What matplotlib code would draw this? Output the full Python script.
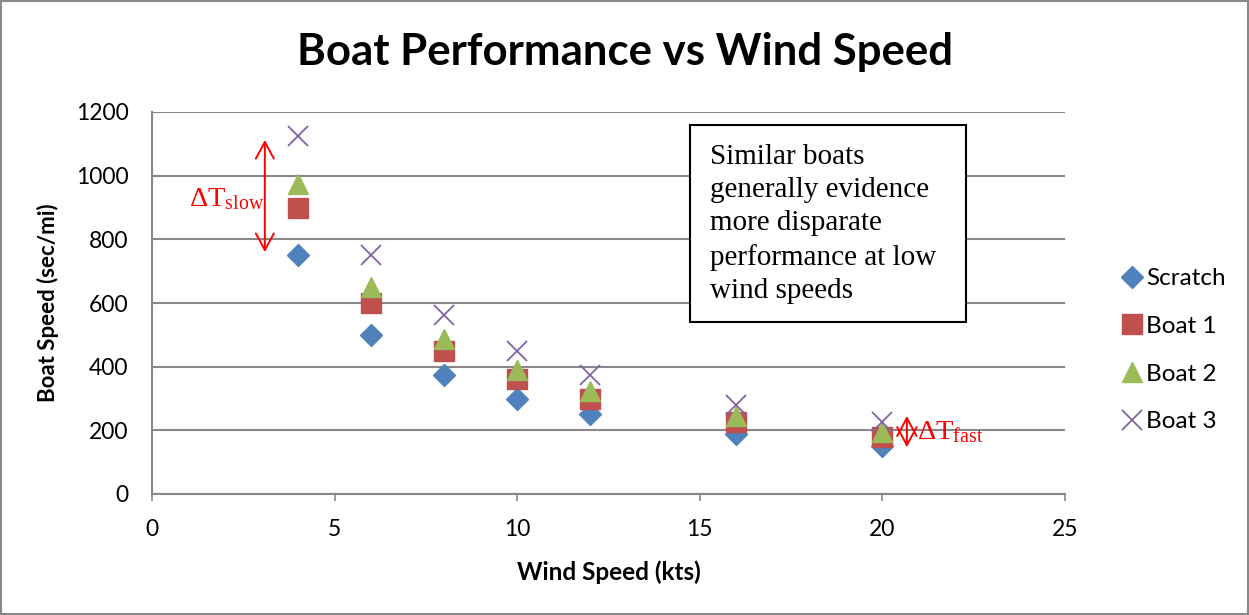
import matplotlib
matplotlib.use("Agg")
import matplotlib.pyplot as plt
from matplotlib.patches import Rectangle

wind = [4, 6, 8, 10, 12, 16, 20]
scratch = [750, 500, 375, 300, 250, 188, 150]
boat1 = [900, 600, 450, 360, 300, 225, 180]
boat2 = [975, 650, 488, 390, 325, 244, 195]
boat3 = [1125, 750, 563, 450, 375, 281, 225]
series_names = ["Scratch", "Boat 1", "Boat 2", "Boat 3"]
xticks = [0, 5, 10, 15, 20, 25]
yticks = [0, 200, 400, 600, 800, 1000, 1200]

plt.rcParams['font.family'] = ['Lato', 'DejaVu Sans']

fig = plt.figure(figsize=(12.49, 6.15), dpi=100)
ax = fig.add_axes([152/1249, 1-494/615, (1065-152)/1249, (494-112)/615])

ax.plot(wind, scratch, linestyle='none', marker='D', markersize=11, color='#4F81BD', label=series_names[0])
ax.plot(wind, boat1, linestyle='none', marker='s', markersize=14, color='#C0504D', label=series_names[1])
ax.plot(wind, boat2, linestyle='none', marker='^', markersize=15, color='#9BBB59', label=series_names[2])
ax.plot(wind, boat3, linestyle='none', marker='x', markersize=14, markeredgewidth=1.3, color='#8064A2', label=series_names[3])

ax.set_xlim(0, 25)
ax.set_ylim(0, 1200)
ax.set_xticks(xticks)
ax.set_yticks(yticks)
ax.tick_params(axis='both', labelsize=16.5, colors='#000000', length=5, width=1.2)
ax.tick_params(axis='x', color='#888888', pad=13)
ax.tick_params(axis='y', color='#888888', length=0, pad=17)
ax.grid(axis='y', color='#888888', linewidth=1.5)
ax.set_axisbelow(True)
for s in ['top', 'right']:
    ax.spines[s].set_visible(False)
for s in ['left', 'bottom']:
    ax.spines[s].set_color('#888888')
    ax.spines[s].set_linewidth(1.5)

ax.set_xlabel('Wind Speed (kts)', fontsize=17.5, fontweight='bold', labelpad=15)
ax.set_ylabel('Boat Speed (sec/mi)', fontsize=16, fontweight='bold', labelpad=12)
fig.text(625/1249, 1-52/615, 'Boat Performance vs Wind Speed', ha='center', va='center',
         fontsize=31.5, fontweight='bold')

# Annotation box
ax.add_patch(Rectangle((0.589, 0.450), 0.8916-0.589, 0.966-0.450, transform=ax.transAxes,
                       facecolor='white', edgecolor='black', linewidth=1.5, zorder=5))
ax.text(0.6112, 0.915, 'Similar boats\ngenerally evidence\nmore disparate\nperformance at low\nwind speeds',
        transform=ax.transAxes, ha='left', va='top', fontsize=21, family='Liberation Serif',
        linespacing=1.35, zorder=6)

# Delta arrows
ax.annotate('', xy=(3.09, 1121), xytext=(3.09, 751),
            arrowprops=dict(arrowstyle='<->,head_length=1.2,head_width=0.65', color='red', lw=1.4))
ax.text(1.0, 925, r'$\mathregular{\Delta T_{slow}}$', color='red', fontsize=20.5,
        family='Liberation Serif', ha='left', va='center')
ax.annotate('', xy=(20.67, 254), xytext=(20.67, 138),
            arrowprops=dict(arrowstyle='<->,head_length=1.3,head_width=0.7', color='red', lw=1.4))
ax.text(20.95, 195, r'$\mathregular{\Delta T_{fast}}$', color='red', fontsize=20.5,
        family='Liberation Serif', ha='left', va='center')

leg = fig.legend(loc='upper left', bbox_to_anchor=(1106/1249, 1-256/615), frameon=False,
                 fontsize=17.5, labelspacing=1.1, handletextpad=0.05, handlelength=1.1, borderpad=0)

fig.patches.append(Rectangle((0.001, 0.001), 0.998, 0.998, transform=fig.transFigure,
                             fill=False, edgecolor='#888888', linewidth=1.5))

fig.savefig('out.png', dpi=100)
